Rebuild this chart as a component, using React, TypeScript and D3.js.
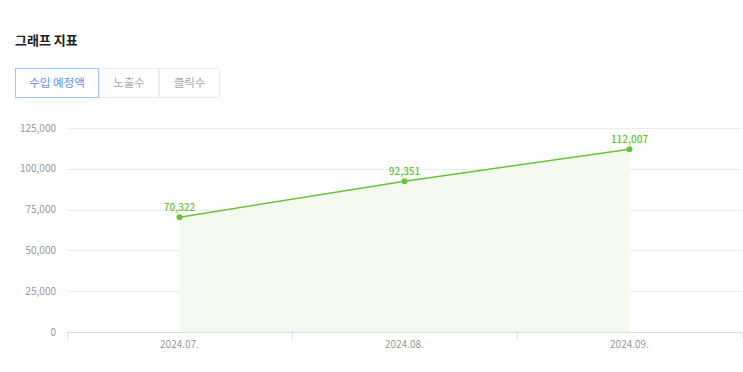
import React, { useRef, useEffect } from 'react';
import * as d3 from 'd3';

const categories = ['2024.07.', '2024.08.', '2024.09.'];
const revenue = [70322, 92351, 112007];
const yTicks = [0, 25000, 50000, 75000, 100000, 125000];
const tabs = ['수입 예정액', '노출수', '클릭수'];

const FONT = '"Noto Sans CJK KR", "Noto Sans", sans-serif';

export default function App() {
  const svgRef = useRef<SVGSVGElement>(null);

  useEffect(() => {
    const width = 743;
    const height = 372;
    const margin = { top: 128, right: 1, bottom: 40, left: 67 };
    const innerWidth = width - margin.left - margin.right;
    const innerHeight = height - margin.top - margin.bottom;

    const svg = d3.select(svgRef.current);
    svg.selectAll('*').remove();

    // 제목
    svg.append('text')
      .attr('x', 15).attr('y', 45)
      .attr('fill', '#222')
      .style('font-family', FONT)
      .style('font-size', '13px')
      .style('font-weight', '700')
      .text('그래프 지표');

    // 탭
    const tabW = [84, 60, 61];
    let tx = 15;
    const tabG = svg.append('g');
    tabs.forEach((t, i) => {
      tabG.append('rect')
        .attr('x', tx + 0.5).attr('y', 68.5)
        .attr('width', tabW[i] - 1).attr('height', 29)
        .attr('fill', '#fff')
        .attr('stroke', i === 0 ? '#a9c4f5' : '#ececec');
      tabG.append('text')
        .attr('x', tx + tabW[i] / 2).attr('y', 87)
        .attr('text-anchor', 'middle')
        .attr('fill', i === 0 ? '#5e8ff0' : '#aaa')
        .style('font-family', FONT)
        .style('font-size', '11.5px')
        .text(t);
      tx += tabW[i];
    });

    const g = svg.append('g')
      .attr('transform', `translate(${margin.left},${margin.top})`);

    const xScale = d3.scaleBand()
      .domain(categories)
      .range([0, innerWidth]);

    const yScale = d3.scaleLinear()
      .domain([0, 125000])
      .range([innerHeight, 0]);

    // 그리드
    g.append('g')
      .selectAll('line')
      .data(yTicks.filter(d => d > 0))
      .enter()
      .append('line')
      .attr('x1', 0).attr('x2', innerWidth)
      .attr('y1', d => Math.round(yScale(d)) + 0.5)
      .attr('y2', d => Math.round(yScale(d)) + 0.5)
      .attr('stroke', '#ececec');

    // Y축 라벨
    g.append('g')
      .selectAll('text')
      .data(yTicks)
      .enter()
      .append('text')
      .attr('x', -11)
      .attr('y', d => yScale(d) + 3.5)
      .attr('text-anchor', 'end')
      .attr('fill', '#999')
      .style('font-family', FONT)
      .style('font-size', '10px')
      .text(d => d3.format(',')(d));

    const cx = (c: string) => xScale(c)! + xScale.bandwidth() / 2;
    const pts = categories.map((c, i) => ({ c, v: revenue[i] }));

    // 영역
    const area = d3.area<{ c: string; v: number }>()
      .x(d => cx(d.c))
      .y0(innerHeight)
      .y1(d => yScale(d.v));
    g.append('path')
      .datum(pts)
      .attr('d', area)
      .attr('fill', '#f4faf0');

    // X축
    const xAxis = g.append('g')
      .attr('transform', `translate(0,${innerHeight + 0.5})`);
    xAxis.append('line')
      .attr('x1', 0).attr('x2', innerWidth)
      .attr('stroke', '#d9dde8');
    const bounds = [0, ...categories.map(c => xScale(c)! + xScale.bandwidth())];
    xAxis.selectAll('.tk')
      .data(bounds)
      .enter()
      .append('line')
      .attr('x1', d => Math.round(d) + 0.5).attr('x2', d => Math.round(d) + 0.5)
      .attr('y1', 0).attr('y2', 6)
      .attr('stroke', '#d9dde8');
    xAxis.selectAll('text')
      .data(categories)
      .enter()
      .append('text')
      .attr('x', d => cx(d))
      .attr('y', 15.5)
      .attr('text-anchor', 'middle')
      .attr('fill', '#999')
      .style('font-family', FONT)
      .style('font-size', '10px')
      .text(d => d);

    // 라인
    const line = d3.line<{ c: string; v: number }>()
      .x(d => cx(d.c))
      .y(d => yScale(d.v));
    g.append('path')
      .datum(pts)
      .attr('d', line)
      .attr('fill', 'none')
      .attr('stroke', '#67c23a')
      .attr('stroke-width', 1.5);

    g.selectAll('.pt')
      .data(pts)
      .enter()
      .append('circle')
      .attr('cx', d => cx(d.c))
      .attr('cy', d => yScale(d.v))
      .attr('r', 3)
      .attr('fill', '#67c23a');

    g.selectAll('.lbl')
      .data(pts)
      .enter()
      .append('text')
      .attr('x', d => cx(d.c))
      .attr('y', d => yScale(d.v) - 6)
      .attr('text-anchor', 'middle')
      .attr('fill', '#67c23a')
      .style('font-family', FONT)
      .style('font-size', '10px')
      .style('font-weight', '500')
      .text(d => d3.format(',')(d.v));
  }, []);

  return (
    <svg
      ref={svgRef}
      width={743}
      height={372}
      style={{ position: 'absolute', left: 0, top: 0, background: '#fff' }}
    ></svg>
  );
}
